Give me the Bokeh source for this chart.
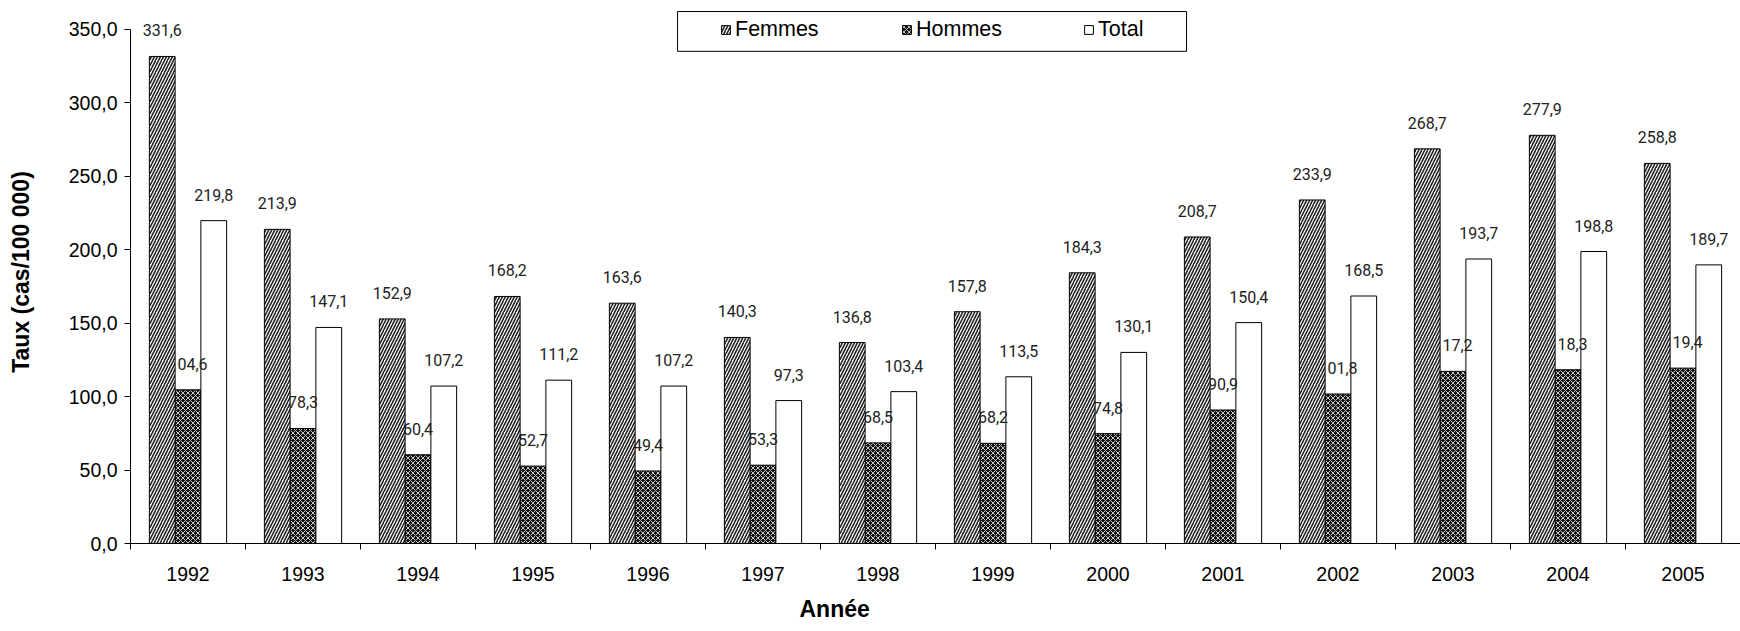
from bokeh.plotting import figure
from bokeh.models import (Range1d, FixedTicker, ColumnDataSource, Legend, LegendItem,
                          Title, BoxAnnotation)
from bokeh.transform import dodge
from bokeh.core.properties import value
from bokeh.embed import file_html
from bokeh.resources import INLINE

# ---------------- data ----------------
years = ["1992", "1993", "1994", "1995", "1996", "1997", "1998",
         "1999", "2000", "2001", "2002", "2003", "2004", "2005"]
femmes = [331.6, 213.9, 152.9, 168.2, 163.6, 140.3, 136.8,
          157.8, 184.3, 208.7, 233.9, 268.7, 277.9, 258.8]
hommes = [104.6, 78.3, 60.4, 52.7, 49.4, 53.3, 68.5,
          68.2, 74.8, 90.9, 101.8, 117.2, 118.3, 119.4]
total = [219.8, 147.1, 107.2, 111.2, 107.2, 97.3, 103.4,
         113.5, 130.1, 150.4, 168.5, 193.7, 198.8, 189.7]
y_ticks = [0, 50, 100, 150, 200, 250, 300, 350]
series_names = ["Femmes", "Hommes", "Total"]
x_title = "Année"
y_title = "Taux (cas/100 000)"


def fr(v):
    return f"{v:.1f}".replace(".", ",")


xc = [i + 0.5 for i in range(len(years))]
src = ColumnDataSource(dict(
    x=xc, year=years, femmes=femmes, hommes=hommes, total=total,
    lf=[fr(v) for v in femmes], lh=[fr(v) for v in hommes], lt=[fr(v) for v in total],
))

FONT = "Liberation Sans"
LBL_FONT = "Roboto"

p = figure(width=1740, height=631, output_backend="svg", toolbar_location=None,
           x_range=Range1d(0, len(years)), y_range=Range1d(0, 369.7),
           min_border_left=130, min_border_right=0, min_border_top=0, min_border_bottom=87)
p.outline_line_color = None
p.xgrid.grid_line_color = None
p.ygrid.grid_line_color = None
p.background_fill_color = "white"
p.border_fill_color = "white"

W = 0.224
OFF = 0.224
LOFF = -26

rh = p.vbar(x=dodge("x", 0.0), top="hommes", width=W, source=src,
            fill_color="#111111", line_color="black", line_width=1,
            hatch_pattern="x", hatch_color="#c8c8c8", hatch_scale=5, hatch_weight=1)
rt = p.vbar(x=dodge("x", OFF), top="total", width=W, source=src,
            fill_color="white", line_color="black", line_width=1)
p.text(x=dodge("x", 0.0), y="hommes", text="lh", source=src, y_offset=LOFF,
       text_align="center", text_baseline="middle", text_font=value(LBL_FONT),
       text_font_size="16px", text_color="#222222")
rf = p.vbar(x=dodge("x", -OFF), top="femmes", width=W, source=src,
            fill_color="white", line_color="black", line_width=1,
            hatch_pattern="/", hatch_color="#222222", hatch_scale=6, hatch_weight=1.6)
p.text(x=dodge("x", -OFF), y="femmes", text="lf", source=src, y_offset=LOFF,
       text_align="center", text_baseline="middle", text_font=value(LBL_FONT),
       text_font_size="16px", text_color="#222222")
p.text(x=dodge("x", OFF), y="total", text="lt", source=src, y_offset=LOFF,
       text_align="center", text_baseline="middle", text_font=value(LBL_FONT),
       text_font_size="16px", text_color="#222222")

# x axis: labels at centers, tick marks at category boundaries
xa = p.xaxis[0]
xa.ticker = FixedTicker(ticks=xc, minor_ticks=list(range(len(years) + 1)))
xa.major_label_overrides = {x: y for x, y in zip(xc, years)}
xa.major_tick_line_color = None
xa.major_tick_out = 0
xa.major_tick_in = 0
xa.minor_tick_line_color = "black"
xa.minor_tick_out = 6
xa.minor_tick_in = 0
xa.axis_line_color = "black"
xa.major_label_text_font = FONT
xa.major_label_text_font_size = "19.5px"
xa.major_label_text_color = "black"
xa.major_label_standoff = 17

ya = p.yaxis[0]
ya.ticker = FixedTicker(ticks=y_ticks)
ya.major_label_overrides = {t: fr(t) for t in y_ticks}
ya.bounds = (0, 350)
ya.major_tick_out = 6
ya.major_tick_in = 0
ya.minor_tick_line_color = None
ya.axis_line_color = "black"
ya.major_tick_line_color = "black"
ya.major_label_text_font = FONT
ya.major_label_text_font_size = "19.5px"
ya.major_label_text_color = "black"
ya.major_label_standoff = 7
ya.axis_label = y_title
ya.axis_label_text_font = FONT
ya.axis_label_text_font_style = "bold"
ya.axis_label_text_font_size = "23px"
ya.axis_label_text_color = "black"
ya.axis_label_standoff = 32

p.add_layout(Title(text=x_title, align="left", offset=669, standoff=20,
                   text_font=FONT, text_font_style="bold", text_font_size="23px",
                   text_color="black"), "below")

# legend frame
p.add_layout(BoxAnnotation(left=4.757, right=9.183, bottom=335.1, top=362.2,
                           fill_color=None, fill_alpha=0, line_color="black", line_width=1,
                           line_alpha=1))

# one legend per entry, so that each entry sits where the reference has it
for name, rend, lx in zip(series_names, [rf, rh, rt], [580, 761, 943]):
    lg = Legend(items=[LegendItem(label=name, renderers=[rend])],
                orientation="horizontal", location=(lx, 491),
                glyph_width=11, glyph_height=11, label_standoff=4,
                spacing=0, padding=10, margin=0,
                border_line_alpha=0, background_fill_alpha=0,
                label_text_font=FONT, label_text_font_size="21.5px",
                label_text_color="black")
    p.add_layout(lg)

open("out.html", "w").write(file_html(p, INLINE))
